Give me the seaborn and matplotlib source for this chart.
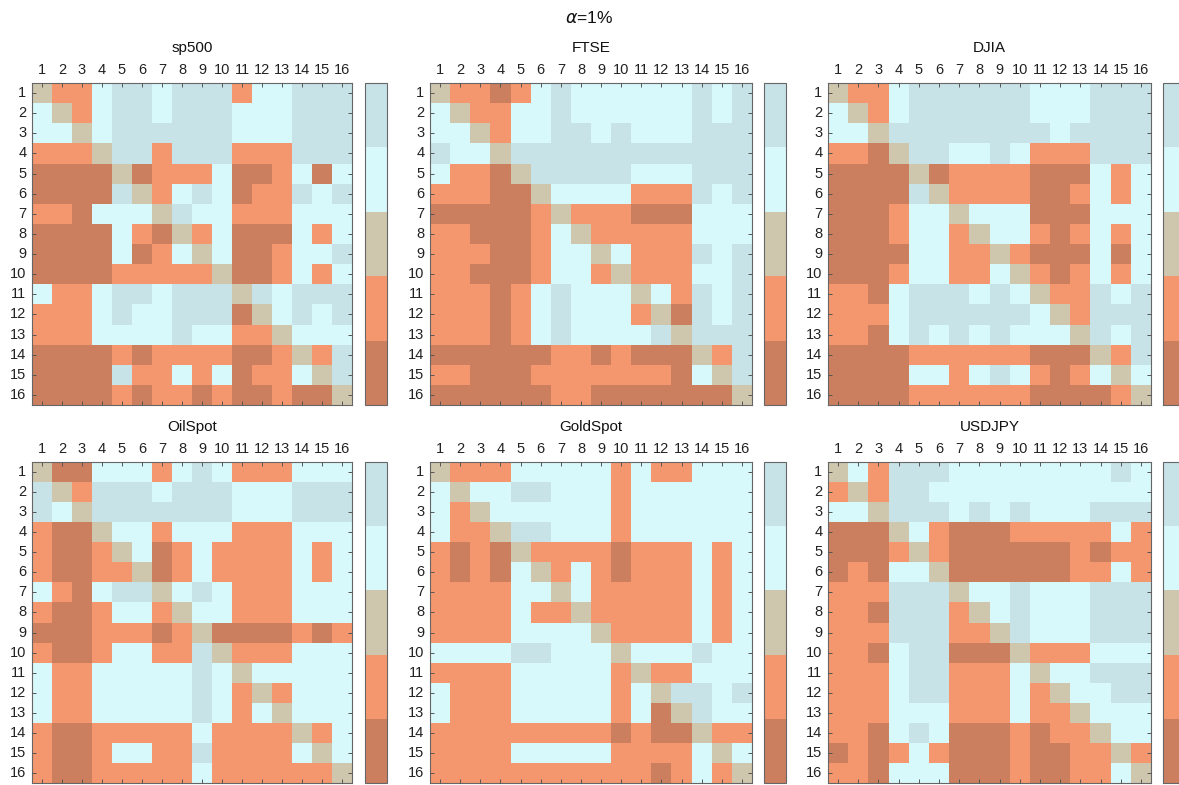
import numpy as np
import pandas as pd
import matplotlib
matplotlib.use("Agg")
import matplotlib.pyplot as plt
import seaborn as sns
from matplotlib.colors import ListedColormap

# categories, from the bottom of the colour bar to the top
levels = ["D", "S", "T", "C", "B"]
level_colors = ["#CC7F5F", "#F5976E", "#CEC6AD", "#D8F9FC", "#C7E3E8"]
labels = [str(i) for i in range(1, 17)]
suptitle = r"$\alpha$=1%"

# one string per row, one letter per column
sp500 = [
    "TSSCBBCBBBSCCBBB",
    "CTSCBBCBBBCCCBBB",
    "CCTCBBBBBBCCCBBB",
    "SSSTBBSBBBSSSBBB",
    "DDDDTDSSSCDDSCDC",
    "DDDDBTSCBCDSSBCB",
    "SSDCCCTBCCSSSCCC",
    "DDDDCSDTSCDDDCSC",
    "DDDDCDSCTCDDSCCB",
    "DDDDSSSSSTDDSCSC",
    "CSSCBBCBBBTBCBBB",
    "SSSCBCCBBBDTCBCB",
    "SSSCCCCBCCSSTCCC",
    "DDDDSDSSSSDDSTSB",
    "DDDDBSSCSCDSSCTB",
    "DDDDSDSSDSDDSDDT",
]

ftse = [
    "TSSDSCBCCCCCCBCB",
    "CTSSCCBCCCCCCBCB",
    "CCTSCCBBCBCCCBBB",
    "BCCTBBBBBBBBBBBB",
    "CSSDTBBBBBCCCBBB",
    "SSSDDTCCCCSSSBCB",
    "DDDDDSTSSSDDDCCC",
    "SSDDDSCTSSSSSCCC",
    "SSSDDSCCTCSSSBCB",
    "SSDDDSCCSTSSSCCB",
    "SSSDSCBCCCTCSBCB",
    "SSSDSCBCCCSTDBCB",
    "SSSDSCBCCCCBTBBB",
    "DDDDDDSSDSDDDTSB",
    "SSDDDSSSSSSSDCTB",
    "DDDDDDSSDDDDDDDT",
]

djia = [
    "TSSCBBBBBBCCCBBB",
    "CTSCBBBBBBCCCBBB",
    "CCTBBBBBBBBCBBBB",
    "SSDTBBCCBCSSSBBB",
    "DDDDTDSSSSDDDCSC",
    "DDDDBTSSSSDDSCSC",
    "DDDSCCTCCCDDDCCC",
    "DDDSCCSTCCSDSCSC",
    "DDDDCCSSTSDDDCDC",
    "DDDSCCSSCTSDSCSC",
    "SSDCBBBCBCTSSBCB",
    "SSSCBBBBBBCTSBBB",
    "SSDCBCBCBCCCTBCB",
    "DDDDSSSSSSDDDTSB",
    "DDDDCCSCBCSDSCTC",
    "DDDDSSSSSSDDDDST",
]

oilspot = [
    "TDDCCCSCBCSSSCCC",
    "BTSBBBCBBBCCCBBB",
    "BCTBBBBBBBCCCBBB",
    "SDDTCCSCCCSSSCCC",
    "SDDSTCDSCSSSSCSC",
    "SDDSSTDSCSSSSCSC",
    "CSDCBBTCBCSSSCCC",
    "SDDSCCSTCCSSSCCC",
    "DDDSSSDSTDDDDSDS",
    "SDDSCCSSBTSSSCCC",
    "CSSCCCCCBCTCCCCC",
    "CSSCCCCCBCSTSCCC",
    "CSSCCCCCBCSCTCCC",
    "SDDSSSSSCSSSSTSC",
    "SDDSCCSSBSSSSCTC",
    "SDDSSSSSCSSSSSST",
]

goldspot = [
    "TSSSCCCCCSCSSCCC",
    "CTCCBBCCCSCCCCCC",
    "CSTCCCCCCSCCCCCC",
    "CSSTBBCCCSCCCCCC",
    "SDSDTSSSSDSSSCSC",
    "SDSDCTSCSDSSSCSC",
    "SSSSCCTCSSSSSCSC",
    "SSSSCSSTSSSSSCSC",
    "SSSSCCCCTSSSSCSC",
    "CCCCBBCCCTCCCBCC",
    "SSSSCCCCCSTSSCCC",
    "CSSSCCCCCSCTBBCB",
    "CSSSCCCCCSCDTBCC",
    "SSSSSSSSSDSDDTSS",
    "SSSSCCCCCSSSSCTC",
    "SSSSSSSSSSSDSCST",
]

usdjpy = [
    "TCSBBBCCCCCCCCBC",
    "STSBBCCCCCCCCCCC",
    "CCTBBBCBCBCCCBBB",
    "DDDTCSDDDSSSSSCS",
    "DDDSTSDDDDDDSDSS",
    "DSDCCTDDDDDDSSCS",
    "SSSBBBTCCBCCCBBB",
    "SSDBBBSTCBCCCBBB",
    "SSSBBBSSTBCCCBBB",
    "SSDCBBDDDTSSSCCC",
    "SSSCBBSSSCTCCBBB",
    "SSSCBBSSSCSTCCBB",
    "SSSCCCSSSCSSTCCC",
    "SSDCBCDDDSDSSTCC",
    "DSDSCSDDDSDDSSTS",
    "SSDCCCDDDSDDSSCT",
]

panels = [
    ("sp500", sp500), ("FTSE", ftse), ("DJIA", djia),
    ("OilSpot", oilspot), ("GoldSpot", goldspot), ("USDJPY", usdjpy),
]


def to_frame(rows):
    codes = [[levels.index(ch) for ch in row] for row in rows]
    return pd.DataFrame(codes, index=labels, columns=labels)


W, H = 1179, 785


def px_axes(fig, x0, y0, x1, y1):
    # pixel box (top-left origin) -> figure axes
    return fig.add_axes([x0 / W, 1 - y1 / H, (x1 - x0) / W, (y1 - y0) / H])


sns.set_style("white")
plt.rcParams["font.family"] = ["Liberation Sans", "DejaVu Sans"]

fig = plt.figure(figsize=(W / 100, H / 100), dpi=100)
cmap = ListedColormap(level_colors)

col_x = [(32, 352, 365, 387), (430, 752, 764, 786), (828, 1151, 1163, 1185)]
row_y = [(83, 405), (462, 783)]

for k, (name, rows) in enumerate(panels):
    x0, x1, c0, c1 = col_x[k % 3]
    y0, y1 = row_y[k // 3]
    ax = px_axes(fig, x0, y0, x1, y1)
    cax = px_axes(fig, c0, y0, c1, y1)

    sns.heatmap(to_frame(rows), ax=ax, cmap=cmap, vmin=-0.5, vmax=4.5,
                cbar_ax=cax, xticklabels=labels, yticklabels=labels)

    # ticks drawn over the cells, pointing inward
    ax.set_axisbelow(False)
    ax.xaxis.tick_top()
    ax.tick_params(axis="both", direction="in", length=3, width=0.7,
                   color="#555555", labelsize=10.5, labelcolor="#222222",
                   top=True, bottom=True, left=True, right=True,
                   labeltop=True, labelbottom=False, pad=4)
    plt.setp(ax.get_xticklabels(), rotation=0)
    plt.setp(ax.get_yticklabels(), rotation=0)
    for s in ax.spines.values():
        s.set_visible(True)
        s.set_color("#666666")
        s.set_linewidth(0.8)
    ax.set_title(name, fontsize=11, color="#111111", pad=8)

    cbar = ax.collections[0].colorbar
    cbar.set_ticks([])
    cbar.outline.set_edgecolor("#666666")
    cbar.outline.set_linewidth(0.8)

fig.text(0.5, 1 - 18 / H, suptitle, ha="center", va="center",
         fontsize=12.5, color="#111111")

fig.savefig("out.png", dpi=100)
